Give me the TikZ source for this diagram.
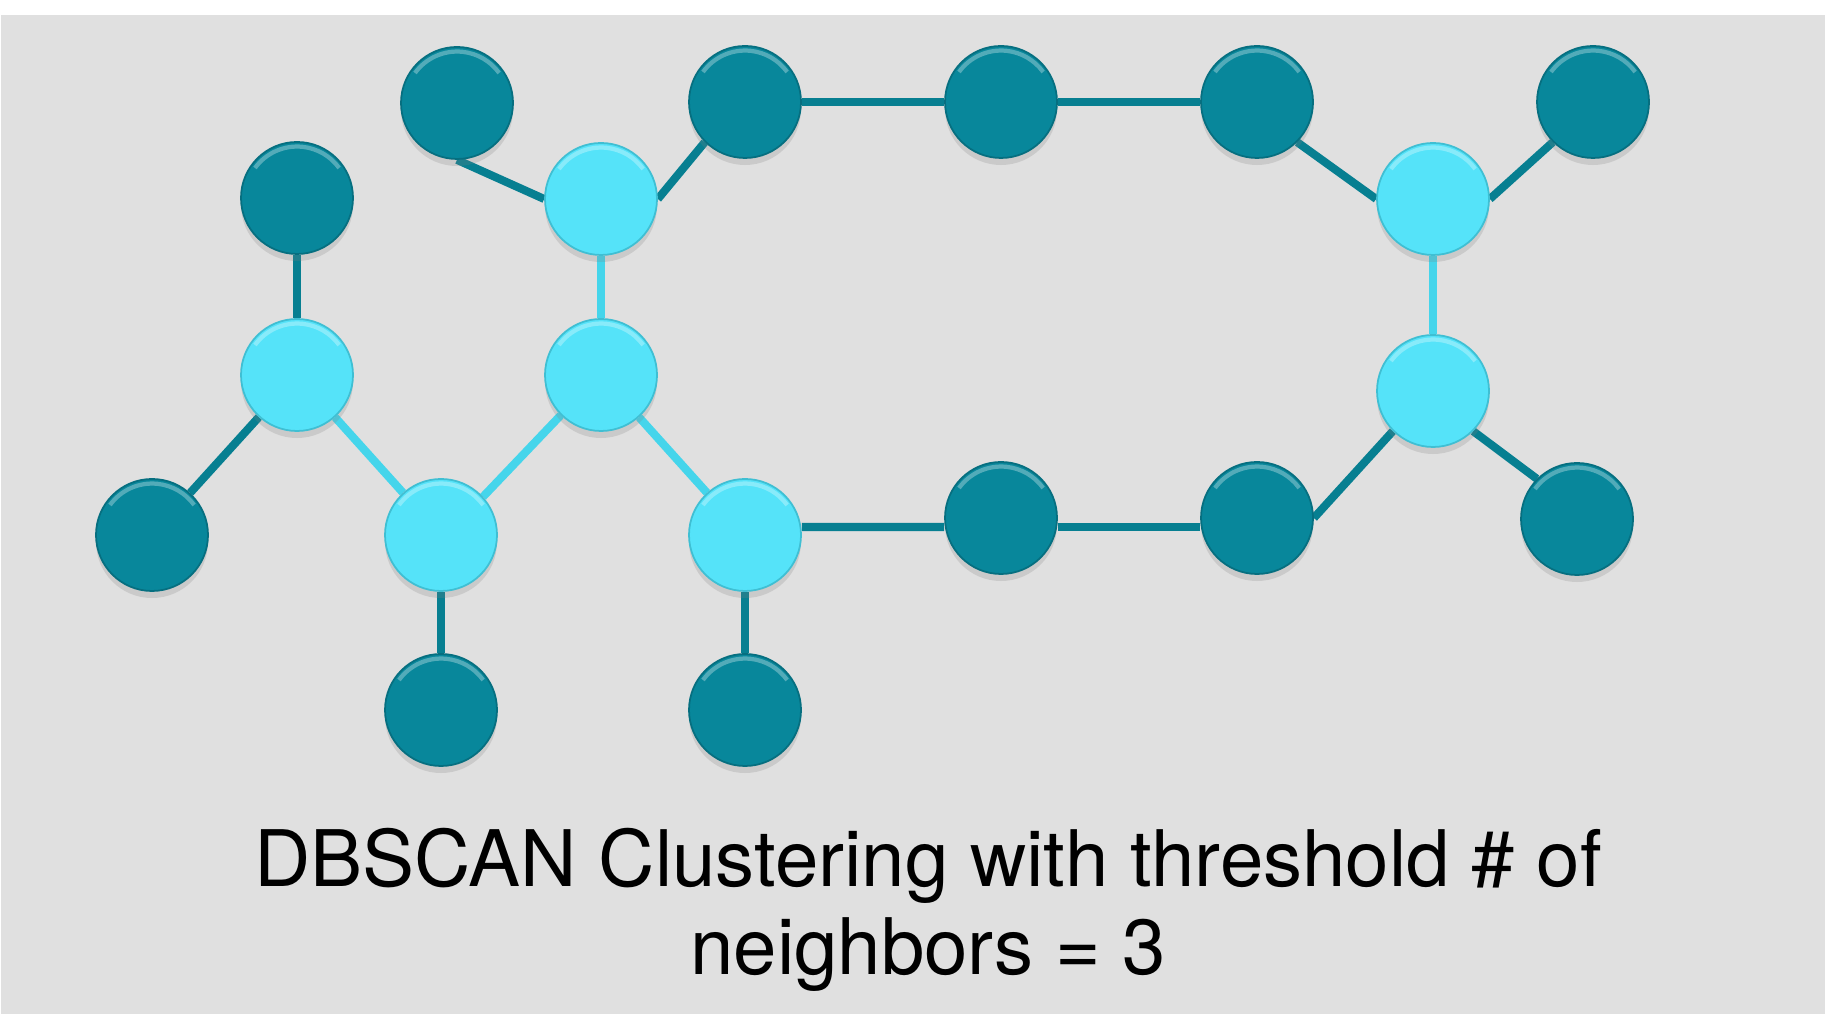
\documentclass[tikz,border=0pt]{standalone}
\usepackage{fontspec}
\setmainfont{TeX Gyre Heros}
\usetikzlibrary{shadows}
\definecolor{panelgray}{HTML}{E0E0E0}
\definecolor{corefill}{HTML}{55E3F9}
\definecolor{coreline}{HTML}{3FBFD3}
\definecolor{corelinkc}{HTML}{45D5EB}
\definecolor{borderfill}{HTML}{08879B}
\definecolor{borderline}{HTML}{066F80}
\definecolor{borderlinkc}{HTML}{077F91}

\pgfdeclarelayer{panel}
\pgfdeclarelayer{links}
\pgfsetlayers{panel,links,main}

\begin{document}
\begin{tikzpicture}[
  pt/.style={circle, minimum size=1.12cm, inner sep=0pt, line width=0.5pt,
    drop shadow={opacity=0.22, shadow xshift=0pt, shadow yshift=-2pt},
    path picture={\draw[white, opacity=0.3, line width=1.2pt]
      ([xshift=-0.42cm,yshift=0.3cm]path picture bounding box.center)
      arc (144:36:0.52cm);}},
  corept/.style={pt, fill=corefill, draw=coreline},
  borderpt/.style={pt, fill=borderfill, draw=borderline},
  corelink/.style={draw=corelinkc, line width=2.3pt},
  borderlink/.style={draw=borderlinkc, line width=2.3pt}
]
  \useasboundingbox (0,0) rectangle (18.25,10.14);
  \begin{pgfonlayer}{panel}
    \fill[panelgray] (0.01,0) rectangle (18.25,9.99);
  \end{pgfonlayer}

  % core points
  \node[corept] (c1) at (6.01,8.15) {};
  \node[corept] (c2) at (2.97,6.39) {};
  \node[corept] (c3) at (6.01,6.39) {};
  \node[corept] (c4) at (4.41,4.79) {};
  \node[corept] (c5) at (7.45,4.79) {};
  \node[corept] (c6) at (14.33,8.15) {};
  \node[corept] (c7) at (14.33,6.23) {};

  % border points
  \node[borderpt] (b1) at (4.57,9.11) {};
  \node[borderpt] (b2) at (7.45,9.12) {};
  \node[borderpt] (b3) at (10.01,9.12) {};
  \node[borderpt] (b4) at (12.57,9.12) {};
  \node[borderpt] (b5) at (15.93,9.12) {};
  \node[borderpt] (b6) at (2.97,8.16) {};
  \node[borderpt] (b7) at (1.52,4.79) {};
  \node[borderpt] (b8) at (4.41,3.04) {};
  \node[borderpt] (b9) at (7.45,3.04) {};
  \node[borderpt] (b10) at (10.01,4.96) {};
  \node[borderpt] (b11) at (12.57,4.96) {};
  \node[borderpt] (b12) at (15.77,4.95) {};

  \begin{pgfonlayer}{links}
    \draw[corelink] (c1) -- (c3);
    \draw[corelink] (c2) -- (c4);
    \draw[corelink] (c4) -- (c3);
    \draw[corelink] (c3) -- (c5);
    \draw[corelink] (c6) -- (c7);

    \draw[borderlink] (b1.south) -- (c1.west);
    \draw[borderlink] (c1.east) -- (b2.south west);
    \draw[borderlink] (b2) -- (b3) -- (b4);
    \draw[borderlink] (b4.south east) -- (c6.west);
    \draw[borderlink] (c6.east) -- (b5.south west);
    \draw[borderlink] (b6) -- (c2);
    \draw[borderlink] (c2) -- (b7);
    \draw[borderlink] (c4) -- (b8);
    \draw[borderlink] (c5) -- (b9);
    \draw[borderlink] ([yshift=0.08cm]c5.east) -- ([yshift=-0.09cm]b10.west);
    \draw[borderlink] ([yshift=-0.09cm]b10.east) -- ([yshift=-0.09cm]b11.west);
    \draw[borderlink] (b11.east) -- (c7.south west);
    \draw[borderlink] (c7.south east) -- (b12.north west);
  \end{pgfonlayer}

  \node[align=center, anchor=base, font=\fontsize{22.2}{25.3}\selectfont]
    (caption) at (9.28,0.39)
    {DBSCAN Clustering with threshold \# of\\neighbors = 3};
\end{tikzpicture}
\end{document}
